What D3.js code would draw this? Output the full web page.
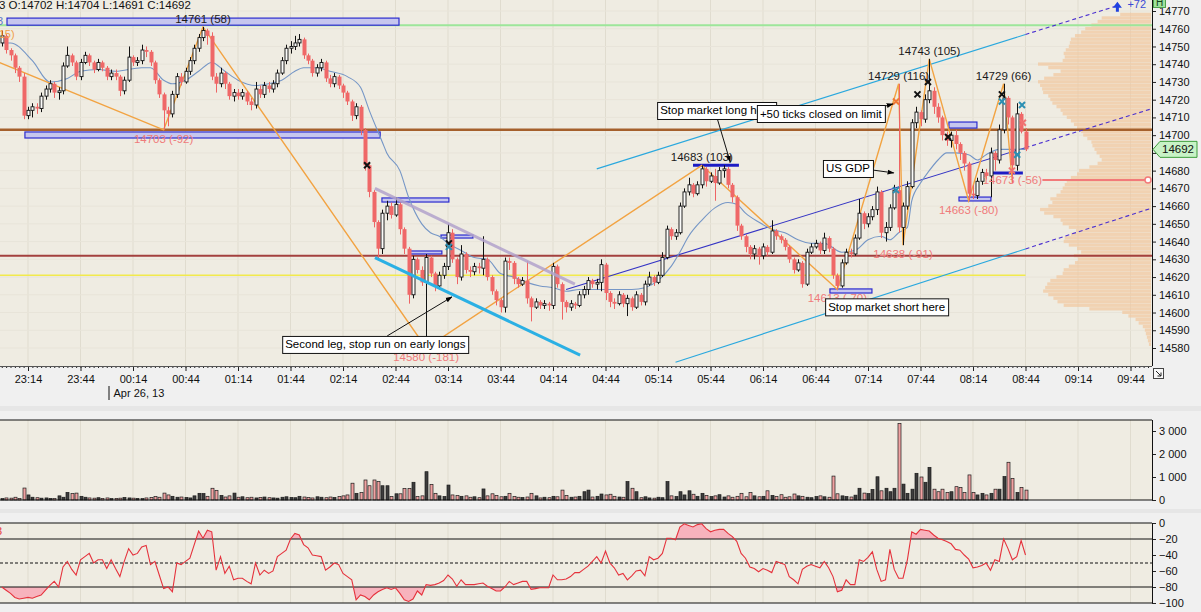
<!DOCTYPE html>
<html>
<head>
<meta charset="utf-8">
<style>
  body { margin: 0; background: #f0f0f0; }
  svg { display: block; font-family: "Liberation Sans", Arial, sans-serif; }
  .axis text { font-size: 11px; fill: #111; font-family: "Liberation Sans", Arial, sans-serif; }
  .axis .domain { display: none; }
  .axis .tick line { stroke: #222; }
</style>
</head>
<body>
<svg width="1201" height="612"></svg>
<script src="https://d3js.org/d3.v7.min.js"></script>
<script>
// ---- chart values ----
const timeTicks = ["23:14", "23:44", "00:14", "00:44", "01:14", "01:44", "02:14", "02:44", "03:14", "03:44", "04:14",
  "04:44", "05:14", "05:44", "06:14", "06:44", "07:14", "07:44", "08:14", "08:44", "09:14", "09:44"]
const priceTicks = [14580, 14590, 14600, 14610, 14620, 14630, 14640, 14650, 14660, 14670, 14680,
  14690, 14700, 14710, 14720, 14730, 14740, 14750, 14760, 14770]
const volumeTicks = [0, 1000, 2000, 3000]
const wprTicks = [0, -20, -40, -60, -80, -100]
const wprLevels = [0, -20, -80, -100]
const wprMid = -50

// 2.5 minute bars from 22:59; each bar opens at the previous close
const firstOpen = 14752
const closes = [
  14756, 14748, 14745, 14738, 14733, 14711, 14714, 14716, 14715, 14722,
  14726, 14729, 14724, 14725, 14739, 14745, 14741, 14733, 14741, 14745,
  14741, 14737, 14741, 14738, 14733, 14735, 14733, 14725, 14731, 14744,
  14741, 14742, 14748, 14747, 14741, 14731, 14723, 14714, 14712, 14723,
  14733, 14730, 14736, 14742, 14749, 14755, 14759, 14756, 14733, 14729,
  14735, 14729, 14722, 14724, 14722, 14724, 14719, 14717, 14726, 14723,
  14728, 14726, 14729, 14735, 14742, 14749, 14750, 14752, 14754, 14745,
  14742, 14735, 14738, 14741, 14732, 14729, 14733, 14728, 14724, 14719,
  14711, 14716, 14703, 14683, 14668, 14651, 14636, 14656, 14660, 14655,
  14661, 14647, 14636, 14610, 14630, 14624, 14617, 14631, 14622, 14615,
  14621, 14626, 14645, 14630, 14620, 14633, 14624, 14623, 14626, 14625,
  14630, 14620, 14612, 14607, 14603, 14629, 14628, 14619, 14616, 14618,
  14608, 14603, 14606, 14604, 14605, 14604, 14626, 14616, 14606, 14603,
  14605, 14604, 14610, 14613, 14618, 14616, 14617, 14627, 14611, 14606,
  14605, 14610, 14605, 14608, 14603, 14610, 14606, 14616, 14620, 14617,
  14621, 14631, 14647, 14643, 14645, 14660, 14668, 14672, 14667, 14672,
  14681, 14674, 14677, 14673, 14680, 14681, 14672, 14665, 14649, 14643,
  14637, 14633, 14636, 14632, 14637, 14634, 14646, 14643, 14641, 14637,
  14630, 14624, 14628, 14616, 14634, 14637, 14639, 14635, 14642, 14636,
  14621, 14615, 14628, 14634, 14633, 14642, 14656, 14650, 14654, 14658,
  14668, 14645, 14648, 14659, 14669, 14648, 14660, 14671, 14707, 14713,
  14709, 14720, 14725, 14716, 14710, 14700, 14697, 14700, 14695, 14690,
  14684, 14667, 14666, 14674, 14679, 14677, 14690, 14686, 14703, 14721,
  14710, 14683, 14712, 14702, 14692]
const highs = [
  14759, 14757, 14749, 14746, 14739, 14735, 14716, 14718, 14718, 14724,
  14728, 14731, 14730, 14727, 14741, 14750, 14746, 14742, 14743, 14747,
  14746, 14742, 14743, 14742, 14739, 14737, 14737, 14734, 14733, 14750,
  14745, 14744, 14751, 14750, 14748, 14742, 14732, 14724, 14716, 14725,
  14735, 14735, 14738, 14744, 14751, 14757, 14761, 14760, 14758, 14735,
  14738, 14736, 14730, 14726, 14726, 14726, 14725, 14721, 14730, 14728,
  14730, 14730, 14731, 14737, 14744, 14751, 14753, 14756, 14757, 14755,
  14746, 14743, 14740, 14743, 14742, 14734, 14735, 14734, 14729, 14725,
  14720, 14718, 14717, 14704, 14684, 14669, 14652, 14658, 14663, 14662,
  14665, 14662, 14648, 14637, 14632, 14631, 14626, 14633, 14632, 14623,
  14623, 14628, 14650, 14647, 14631, 14638, 14634, 14626, 14628, 14628,
  14643, 14631, 14621, 14613, 14608, 14631, 14631, 14629, 14620, 14620,
  14629, 14609, 14608, 14607, 14607, 14606, 14628, 14627, 14617, 14607,
  14607, 14606, 14612, 14615, 14620, 14619, 14619, 14630, 14628, 14612,
  14608, 14612, 14611, 14610, 14609, 14612, 14611, 14618, 14623, 14621,
  14623, 14634, 14649, 14648, 14647, 14662, 14670, 14676, 14673, 14674,
  14683, 14682, 14679, 14681, 14682, 14683, 14682, 14673, 14666, 14650,
  14644, 14638, 14638, 14637, 14639, 14638, 14652, 14647, 14644, 14642,
  14638, 14631, 14630, 14629, 14636, 14639, 14641, 14640, 14645, 14643,
  14637, 14622, 14630, 14636, 14636, 14644, 14664, 14657, 14656, 14660,
  14671, 14669, 14651, 14661, 14672, 14729, 14662, 14674, 14709, 14716,
  14714, 14723, 14743, 14727, 14718, 14711, 14702, 14702, 14703, 14696,
  14691, 14685, 14672, 14676, 14681, 14681, 14693, 14691, 14706, 14729,
  14722, 14711, 14718, 14713, 14704]
const lows = [
  14750, 14746, 14742, 14735, 14730, 14709, 14709, 14710, 14712, 14713,
  14720, 14724, 14721, 14720, 14723, 14738, 14739, 14731, 14731, 14740,
  14739, 14735, 14736, 14736, 14731, 14731, 14731, 14722, 14723, 14730,
  14739, 14739, 14740, 14744, 14739, 14729, 14721, 14703, 14705, 14710,
  14721, 14728, 14729, 14734, 14740, 14747, 14753, 14751, 14731, 14724,
  14727, 14726, 14720, 14719, 14720, 14720, 14717, 14714, 14715, 14721,
  14721, 14724, 14724, 14727, 14734, 14740, 14746, 14748, 14750, 14743,
  14740, 14733, 14733, 14736, 14730, 14727, 14727, 14726, 14721, 14717,
  14708, 14709, 14700, 14680, 14665, 14648, 14630, 14633, 14652, 14653,
  14654, 14644, 14633, 14605, 14608, 14622, 14615, 14580, 14620, 14612,
  14614, 14619, 14624, 14628, 14616, 14618, 14622, 14620, 14621, 14622,
  14621, 14618, 14610, 14604, 14600, 14600, 14624, 14616, 14614, 14615,
  14605, 14595, 14602, 14602, 14602, 14601, 14602, 14614, 14596, 14600,
  14601, 14602, 14603, 14608, 14610, 14614, 14613, 14612, 14607, 14603,
  14602, 14604, 14603, 14598, 14601, 14602, 14604, 14604, 14615, 14615,
  14616, 14620, 14630, 14641, 14641, 14644, 14659, 14666, 14665, 14666,
  14670, 14671, 14673, 14663, 14672, 14676, 14670, 14662, 14646, 14641,
  14634, 14630, 14630, 14627, 14630, 14632, 14633, 14641, 14639, 14635,
  14628, 14622, 14623, 14614, 14615, 14633, 14636, 14633, 14633, 14634,
  14619, 14613, 14614, 14627, 14631, 14632, 14641, 14647, 14648, 14652,
  14655, 14642, 14640, 14646, 14658, 14645, 14638, 14658, 14670, 14704,
  14705, 14707, 14718, 14712, 14707, 14697, 14694, 14693, 14692, 14686,
  14680, 14663, 14664, 14664, 14672, 14675, 14665, 14680, 14684, 14701,
  14706, 14673, 14680, 14701, 14691]
const volumes = [
  60, 90, 80, 120, 70, 520, 220, 120, 100, 80,
  90, 70, 60, 180, 120, 330, 280, 300, 160, 120,
  90, 80, 100, 70, 90, 60, 70, 80, 110, 90,
  80, 70, 60, 90, 110, 150, 120, 300, 220, 160,
  120, 130, 110, 90, 180, 290, 280, 160, 510, 420,
  200, 130, 180, 300, 120, 140, 100, 120, 90, 110,
  130, 100, 90, 80, 120, 140, 110, 100, 160, 130,
  110, 90, 140, 120, 100, 130, 110, 150, 180, 220,
  730, 290, 320, 870, 620, 870, 800, 620, 620, 150,
  270, 270, 500, 500, 770, 150, 180, 1230, 680, 290,
  180, 150, 650, 220, 190, 160, 180, 120, 140, 100,
  480, 180, 270, 200, 140, 160, 290, 150, 120, 110,
  130, 290, 180, 90, 120, 100, 160, 140, 430, 200,
  120, 130, 160, 360, 430, 130, 160, 260, 220, 250,
  160, 130, 120, 800, 510, 360, 100, 140, 90, 80,
  120, 100, 800, 180, 150, 360, 220, 400, 250, 160,
  290, 200, 150, 180, 230, 130, 180, 120, 160, 290,
  140, 320, 180, 140, 160, 400, 200, 150, 230, 120,
  140, 260, 180, 160, 120, 100, 150, 180, 140, 120,
  1040, 270, 180, 150, 130, 210, 510, 300, 280, 460,
  1010, 400, 510, 360, 510, 3330, 690, 290, 470, 1160,
  1000, 770, 1420, 470, 360, 470, 330, 360, 580, 550,
  320, 1090, 330, 220, 290, 220, 290, 470, 470, 1020,
  1640, 940, 330, 550, 430]
// Williams %R per bar
const wpr = [
  -80, -84, -88, -93, -95, -94, -93, -94, -92, -90,
  -84, -78, -73, -80, -55, -48, -58, -65, -46, -42,
  -38, -50, -46, -46, -57, -46, -57, -67, -48, -32,
  -40, -38, -30, -28, -52, -48, -65, -82, -80, -86,
  -50, -52, -48, -44, -27, -10, -19, -9, -11, -59,
  -42, -63, -54, -71, -69, -69, -73, -76, -50, -65,
  -59, -63, -60, -42, -38, -34, -20, -13, -15, -27,
  -31, -40, -41, -42, -59, -55, -50, -52, -63, -67,
  -71, -96, -90, -92, -96, -90, -86, -83, -81, -83,
  -81, -88, -96, -98, -95, -85, -90, -77, -78, -77,
  -75, -72, -65, -70, -79, -71, -77, -77, -77, -76,
  -75, -79, -82, -85, -85, -80, -73, -77, -75, -73,
  -73, -83, -82, -81, -81, -81, -65, -71, -71, -70,
  -67, -62, -62, -58, -54, -48, -42, -50, -35, -50,
  -56, -65, -63, -71, -66, -60, -59, -66, -42, -46,
  -44, -38, -19, -19, -21, -5, -1, -3, -5, -2,
  -1, -7, -11, -9, -8, -8, -13, -17, -23, -38,
  -44, -55, -57, -61, -57, -59, -62, -48, -50, -52,
  -67, -71, -76, -58, -54, -52, -54, -56, -48, -56,
  -67, -86, -84, -71, -77, -77, -46, -48, -43, -36,
  -58, -73, -71, -33, -58, -69, -69, -46, -11, -14,
  -8, -9, -10, -15, -19, -21, -23, -26, -33, -34,
  -40, -45, -56, -55, -53, -50, -59, -46, -48, -20,
  -32, -46, -42, -22, -40]

// moving average, read at sample bars
const maBars = [0, 2, 7, 11, 15, 18, 22, 26, 32, 34, 37, 39, 42, 45, 48, 51, 54, 58, 61, 64, 67, 69, 72, 75, 79, 82, 84, 87,
  88, 91, 93, 96, 98, 100, 102, 105, 108, 111, 114, 117, 120, 123, 126, 129, 132, 135, 139, 144, 147, 150, 153, 155, 157,
  160, 163, 166, 168, 170, 173, 176, 179, 182, 185, 188, 192, 195, 198, 201, 203, 205, 207, 208, 210, 212, 214, 216, 218,
  221, 223, 225, 228, 230, 234]
const maValues = [14752, 14752, 14742, 14730, 14732, 14736, 14737, 14736, 14738, 14738, 14731, 14729, 14731, 14736, 14741,
  14736, 14731, 14728, 14729, 14731, 14736, 14738, 14738, 14736, 14733, 14727, 14714, 14696, 14690, 14680, 14665, 14650,
  14645, 14643, 14639, 14635, 14631, 14630, 14622, 14620, 14617, 14615, 14614, 14612, 14613, 14613, 14613, 14613, 14614,
  14618, 14626, 14634, 14643, 14652, 14659, 14662, 14661, 14656, 14651, 14647, 14645, 14641, 14639, 14639, 14634, 14635,
  14641, 14643, 14641, 14645, 14648, 14663, 14673, 14680, 14686, 14690, 14690, 14689, 14686, 14689, 14692, 14692, 14692]

// zigzag swing points
const pivotBars = [-54, 37, 46, 97, 160, 191, 205, 206, 212, 221, 229, 231]
const pivotPrices = [14795, 14703, 14761, 14580, 14683, 14613, 14729, 14638, 14743, 14663, 14729, 14673]

// horizontal levels: high-of-day, pivot, support, settlement
const levelPrices = [14762, 14703, 14632, 14621]

// supply / demand zones (bar range, price range)
const zoneBars = [[1.2, 90.8], [5.3, 86.5], [86.9, 102.2], [93.3, 100.6], [100.4, 107.7], [216.5, 222.9], [218.8, 226.1], [189.3, 198.9]]
const zonePrices = [[14762, 14766], [14698.4, 14701.8], [14662.3, 14664.6], [14633, 14634.7], [14642, 14643.7],
  [14704, 14707.4], [14662.9, 14665.1], [14611, 14613.3]]
const swingLineBars = [[158, 168.5], [226.1, 233.4]]
const swingLinePrices = [14683, 14678.7]

// regression channel (upper, middle, lower) and hand drawn trend lines
const channelBars = [[136, 255], [129, 263], [154, 263]]
const channelPrices = [[14681, 14773], [14613, 14715], [14572, 14659]]
const channelGain = 72
const trendBars = [[85.3, 132.2], [85.3, 131]]
const trendPrices = [[14631, 14576], [14670, 14616]]

// trade markers
const markBars = [83.5, 102.2, 209.3, 211.7, 216.3, 228.6, 102.2, 204.4, 228.6, 232.1, 233.2, 204.4, 230.9, 233.4]
const markPrices = [14683, 14639, 14723, 14730, 14699, 14723, 14637, 14669, 14719, 14689, 14717, 14719, 14680, 14707]
const markKinds = ["exit", "exit", "exit", "exit", "exit", "exit", "entry", "entry", "entry", "entry", "entry", "stop", "target", "target"]

// text notes
const noteTexts = ["Stop market long here", "+50 ticks closed on limit", "US GDP", "Stop market short here", "Second leg, stop run on early longs"]
const noteBars = [149.8, 172.6, 187.7, 188.2, 64.1]
const notePrices = [14718.7, 14717, 14686, 14608, 14586.8]
const arrowFrom = [[163.5, 14709.7], [200.3, 14715.3], [198.9, 14680.4], null, [88.1, 14586.8]]
const arrowTo = [[166.5, 14684.9], [203.7, 14717.6], [203.9, 14678.7], null, [102.9, 14608.8]]

// volume profile, one value per 2 points from 14580
const profileLow = 14580
const profile = [
  0, 2, 3, 4, 5, 6, 8, 12, 15, 22,
  28, 60, 85, 91, 95, 100, 105, 103, 101, 98,
  92, 86, 85, 80, 74, 71, 75, 68, 72, 80,
  85, 84, 78, 73, 80, 86, 88, 95, 104, 108,
  100, 96, 98, 92, 88, 86, 84, 82, 78, 72,
  70, 60, 52, 48, 50, 53, 55, 57, 58, 62,
  66, 68, 72, 75, 78, 82, 86, 88, 92, 96,
  98, 100, 105, 106, 108, 110, 104, 95, 88, 100,
  110, 86, 84, 85, 83, 80, 79, 78, 74, 68,
  64, 58, 52, 48, 30]

// ---- drawing ----
let svg = d3.select("svg")
let W = 1152
let last = closes.length - 1
let opens = closes.map((c, i) => i == 0 ? firstOpen : closes[i - 1])

let base = new Date(2013, 3, 25, 22, 59)
function barTime(i) { return new Date(base.getTime() + i * 150000) }
let x = d3.scaleTime()
  .domain([new Date(2013, 3, 25, 22, 58), new Date(2013, 3, 26, 9, 56, 17)])
  .range([0, W])
function xb(i) { return x(barTime(i)) }
function tickDate(s) {
  let [h, m] = s.split(":").map(Number)
  return new Date(2013, 3, h > 12 ? 25 : 26, h, m)
}
let majorTimes = timeTicks.map(tickDate)

let y = d3.scaleLinear().domain([14580, 14770]).range([348, 11])
let yv = d3.scaleLinear().domain([0, 3000]).range([500, 431])
let yw = d3.scaleLinear().domain([-100, 0]).range([603, 523])

let defs = svg.append("defs")
defs.append("clipPath").attr("id", "clipP").append("rect").attr("width", W).attr("height", 366)
defs.append("clipPath").attr("id", "clipHi").append("rect").attr("x", 0).attr("y", yw(0)).attr("width", W).attr("height", yw(-20) - yw(0))
defs.append("clipPath").attr("id", "clipLo").append("rect").attr("x", 0).attr("y", yw(-80)).attr("width", W).attr("height", yw(-100) - yw(-80))
defs.append("marker").attr("id", "arrow").attr("viewBox", "0 0 10 10").attr("refX", 9).attr("refY", 5)
  .attr("markerWidth", 7).attr("markerHeight", 7).attr("orient", "auto")
  .append("path").attr("d", "M0,1.5L10,5L0,8.5z").attr("fill", "#000")

// panel backgrounds
let panelTops = [[0, 366], [420, 500], [523, 603]]
panelTops.forEach(p => {
  svg.append("rect").attr("x", 0).attr("y", p[0]).attr("width", W).attr("height", p[1] - p[0]).attr("fill", "#efece2")
})
svg.append("rect").attr("x", 0).attr("y", 406).attr("width", 1201).attr("height", 5).attr("fill", "#e6e6e6")
svg.append("rect").attr("x", 0).attr("y", 509).attr("width", 1201).attr("height", 4).attr("fill", "#e6e6e6")

// grid
panelTops.forEach(p => {
  svg.append("g").selectAll("line").data(majorTimes).join("line")
    .attr("x1", d => x(d)).attr("x2", d => x(d)).attr("y1", p[0]).attr("y2", p[1])
    .attr("stroke", "#e0dccf").attr("stroke-width", 1)
})
svg.append("g").selectAll("line").data(priceTicks).join("line")
  .attr("x1", 0).attr("x2", W).attr("y1", d => y(d)).attr("y2", d => y(d))
  .attr("stroke", "#e8e4d9")

let plot = svg.append("g").attr("clip-path", "url(#clipP)")

// volume profile
let px = d3.scaleLinear().domain([0, 110]).range([0, 113])
let rowH = y(profileLow) - y(profileLow + 2)
plot.append("g").selectAll("rect").data(profile).join("rect")
  .attr("x", d => W - 1 - px(d))
  .attr("y", (d, k) => y(profileLow + 2 * k + 1))
  .attr("width", d => px(d))
  .attr("height", rowH - 0.3)
  .attr("fill", "#f1c7a0").attr("opacity", 0.72)

// horizontal levels
let levelColor = ["#9de69a", "#a5602c", "#a3403e", "#f2ea4c"]
let levelWidth = [2, 2.5, 2, 1.5]
levelPrices.forEach((p, k) => {
  plot.append("line")
    .attr("x1", 0).attr("x2", k == 3 ? xb(last) : W)
    .attr("y1", y(p)).attr("y2", y(p))
    .attr("stroke", levelColor[k]).attr("stroke-width", levelWidth[k])
})

// zones
plot.append("g").selectAll("rect").data(zoneBars).join("rect")
  .attr("x", d => xb(d[0])).attr("width", d => xb(d[1]) - xb(d[0]))
  .attr("y", (d, k) => y(zonePrices[k][1]))
  .attr("height", (d, k) => y(zonePrices[k][0]) - y(zonePrices[k][1]))
  .attr("fill", "#c6c6ee").attr("stroke", "#2b2bcf").attr("stroke-width", 1.2)
plot.append("g").selectAll("line").data(swingLineBars).join("line")
  .attr("x1", d => xb(d[0])).attr("x2", d => xb(d[1]))
  .attr("y1", (d, k) => y(swingLinePrices[k])).attr("y2", (d, k) => y(swingLinePrices[k]))
  .attr("stroke", "#1c1cc4").attr("stroke-width", 3)

// channel
let chanColor = ["#2aa8de", "#3434c4", "#2aa8de"]
channelBars.forEach((b, k) => {
  let p = channelPrices[k]
  let pEnd = p[0] + (p[1] - p[0]) * (last - b[0]) / (b[1] - b[0])
  plot.append("line").attr("x1", xb(b[0])).attr("y1", y(p[0])).attr("x2", xb(last)).attr("y2", y(pEnd))
    .attr("stroke", chanColor[k]).attr("stroke-width", 1.1)
  plot.append("line").attr("x1", xb(last)).attr("y1", y(pEnd)).attr("x2", xb(b[1])).attr("y2", y(p[1]))
    .attr("stroke", "#4a2fd0").attr("stroke-width", 1.1).attr("stroke-dasharray", "4,3")
})

// moving average
let maLine = d3.line().x(d => xb(d[0])).y(d => y(d[1])).curve(d3.curveMonotoneX)
plot.append("path").datum(maBars.map((b, k) => [b, maValues[k]]))
  .attr("d", maLine).attr("fill", "none").attr("stroke", "#7596c6").attr("stroke-width", 1.1)

// zigzag
let zz = d3.line().x(d => xb(d[0])).y(d => y(d[1]))
plot.append("path").datum(pivotBars.map((b, k) => [b, pivotPrices[k]]))
  .attr("d", zz).attr("fill", "none").attr("stroke", "#f2a342").attr("stroke-width", 1.4)

// candles
let candles = plot.append("g")
closes.forEach((c, i) => {
  let o = opens[i]
  let up = c >= o
  let cx = Math.round(xb(i)) + 0.5
  candles.append("line")
    .attr("x1", cx).attr("x2", cx)
    .attr("y1", y(Math.max(highs[i], o, c))).attr("y2", y(Math.min(lows[i], o, c)))
    .attr("stroke", up ? "#111" : "#ee6464").attr("stroke-width", 1)
  let top = y(Math.max(o, c)), h = Math.max(1, Math.abs(y(o) - y(c)))
  if (up) {
    candles.append("rect").attr("x", cx - 1.5).attr("y", top).attr("width", 3).attr("height", h)
      .attr("fill", "#fcfcfa").attr("stroke", "#111").attr("stroke-width", 0.9)
  } else {
    candles.append("rect").attr("x", cx - 2).attr("y", top).attr("width", 4).attr("height", h)
      .attr("fill", "#ef6868")
  }
})

// drawn trend lines
let trendColor = ["#2bb0e4", "#b3a3cc"]
trendBars.forEach((b, k) => {
  plot.append("line").attr("x1", xb(b[0])).attr("x2", xb(b[1]))
    .attr("y1", y(trendPrices[k][0])).attr("y2", y(trendPrices[k][1]))
    .attr("stroke", trendColor[k]).attr("stroke-width", 3).attr("opacity", k ? 0.85 : 1)
})

// trade markers
let markColor = { exit: "#111", entry: "#2b8fb3", stop: "#f07a35", target: "#f07272" }
markBars.forEach((b, k) => {
  let mx = xb(b), my = y(markPrices[k]), s = 3
  plot.append("path").attr("d", `M${mx - s},${my - s}L${mx + s},${my + s}M${mx - s},${my + s}L${mx + s},${my - s}`)
    .attr("stroke", markColor[markKinds[k]]).attr("stroke-width", 2)
})

// pivot labels; the latest swing label sits on its projection line
let lastPiv = pivotBars.length - 1
pivotBars.forEach((b, k) => {
  if (k == 0) return
  let p = pivotPrices[k], diff = p - pivotPrices[k - 1]
  let isHigh = diff > 0
  let ly = isHigh ? y(p) - 4 : (k == lastPiv ? y(p) + 1 : y(p) + 13)
  plot.append("text")
    .attr("x", xb(b)).attr("y", ly)
    .attr("text-anchor", "middle")
    .style("font-size", "11.5px")
    .attr("fill", isHigh ? "#1a1a1a" : "#ef7b7b")
    .text(`${p} (${diff})`)
})

// projection of last swing
plot.append("line")
  .attr("x1", xb(pivotBars[lastPiv]) + 30).attr("x2", W - 4)
  .attr("y1", y(pivotPrices[lastPiv]) - 3).attr("y2", y(pivotPrices[lastPiv]) - 3)
  .attr("stroke", "#f27a7a").attr("stroke-width", 2)
plot.append("circle").attr("cx", W - 4).attr("cy", y(pivotPrices[lastPiv]) - 3).attr("r", 3)
  .attr("fill", "#fff").attr("stroke", "#f27a7a").attr("stroke-width", 1.5)

// partly hidden labels at the left edge
plot.append("text").attr("x", xb(zoneBars[0][0]) - 4).attr("y", y(zonePrices[0][0]) - 0.5)
  .attr("text-anchor", "end").style("font-size", "11px").attr("fill", "#5d78c8").text("03")
plot.append("text").attr("x", -5).attr("y", 38)
  .style("font-size", "11px").attr("fill", "#f0a04a").text("(15)")

// channel target arrow
let upEnd = [xb(channelBars[0][1]), y(channelPrices[0][1])]
plot.append("path").attr("d", `M${upEnd[0]},${upEnd[1] - 4}l-4.5,6h3v4h3v-4h3z`).attr("fill", "#2142e0")
svg.append("text").attr("x", upEnd[0] + 10).attr("y", 8).style("font-size", "11px").attr("fill", "#3b4bd6").text("+" + channelGain)

// notes and arrows
arrowFrom.forEach((a, k) => {
  if (!a) return
  svg.append("line").attr("x1", xb(a[0])).attr("y1", y(a[1]))
    .attr("x2", xb(arrowTo[k][0])).attr("y2", y(arrowTo[k][1]))
    .attr("stroke", "#111").attr("stroke-width", 1).attr("marker-end", "url(#arrow)")
})
noteTexts.forEach((t, k) => {
  let g = svg.append("g")
  let bx = xb(noteBars[k]), by = y(notePrices[k])
  let txt = g.append("text").attr("x", bx + 3).attr("y", by + 12.5).style("font-size", "11.5px").attr("fill", "#000").text(t)
  let w = txt.node().getComputedTextLength()
  g.insert("rect", "text").attr("x", bx + 0.5).attr("y", by + 0.5).attr("width", Math.round(w) + 6).attr("height", 17)
    .attr("fill", "#fff").attr("stroke", "#111")
})

// volume bars
svg.append("g").selectAll("rect").data(volumes).join("rect")
  .attr("x", (d, i) => Math.round(xb(i)) - 1)
  .attr("y", d => yv(d))
  .attr("width", 3)
  .attr("height", d => yv(0) - yv(d))
  .attr("fill", (d, i) => closes[i] >= opens[i] ? "#3d3d3d" : "#f0a2a2")
  .attr("stroke", "#1a1a1a").attr("stroke-width", 0.7)
svg.append("line").attr("x1", 0).attr("x2", W).attr("y1", 420).attr("y2", 420).attr("stroke", "#111")
svg.append("line").attr("x1", 0).attr("x2", W).attr("y1", yv(0)).attr("y2", yv(0)).attr("stroke", "#111")

// williams %R
let wLine = d3.line().x((d, i) => xb(i)).y(d => yw(d))
let wAreaHi = d3.area().x((d, i) => xb(i)).y0(yw(-20)).y1(d => yw(d))
let wAreaLo = d3.area().x((d, i) => xb(i)).y0(yw(-80)).y1(d => yw(d))
svg.append("path").datum(wpr).attr("d", wAreaHi).attr("fill", "#f7b3bd").attr("clip-path", "url(#clipHi)")
svg.append("path").datum(wpr).attr("d", wAreaLo).attr("fill", "#f7b3bd").attr("clip-path", "url(#clipLo)")
svg.append("g").selectAll("line").data(wprLevels).join("line")
  .attr("x1", 0).attr("x2", W).attr("y1", d => yw(d)).attr("y2", d => yw(d)).attr("stroke", "#111")
svg.append("line").attr("x1", 0).attr("x2", W).attr("y1", yw(wprMid)).attr("y2", yw(wprMid))
  .attr("stroke", "#111").attr("stroke-dasharray", "3,2")
svg.append("path").datum(wpr).attr("d", wLine).attr("fill", "none").attr("stroke", "#e5323c").attr("stroke-width", 1.1)
svg.append("text").attr("x", -4).attr("y", 535).style("font-size", "11px").attr("fill", "#e5323c").text("3")

// axes
let minorTimes = d3.range(0, 263).map(barTime)
svg.append("g").attr("class", "axis").attr("transform", "translate(0,366)")
  .call(d3.axisBottom(x).tickValues(minorTimes).tickSize(2).tickSizeOuter(0).tickFormat(""))
svg.append("g").attr("class", "axis").attr("transform", "translate(0,366)")
  .call(d3.axisBottom(x).tickValues(majorTimes).tickSize(5).tickSizeOuter(0).tickPadding(4).tickFormat(d3.timeFormat("%H:%M")))
svg.append("line").attr("x1", 0).attr("x2", W).attr("y1", 366.5).attr("y2", 366.5).attr("stroke", "#555")

let dayStart = new Date(2013, 3, 26, 0, 0)
svg.append("line").attr("x1", x(dayStart) + 0.5).attr("x2", x(dayStart) + 0.5).attr("y1", 386).attr("y2", 400).attr("stroke", "#111")
svg.append("text").attr("x", x(dayStart) + 5).attr("y", 397).style("font-size", "11px").attr("fill", "#111")
  .text(d3.timeFormat("%b %e, %y")(dayStart).replace("  ", " "))

svg.append("g").attr("class", "axis").attr("transform", `translate(${W},0)`)
  .call(d3.axisRight(y).tickValues(priceTicks).tickSize(4).tickPadding(3).tickFormat(d3.format("d")))
svg.append("line").attr("x1", W + 0.5).attr("x2", W + 0.5).attr("y1", 0).attr("y2", 366).attr("stroke", "#111")

let spaced = d3.formatLocale({ thousands: "\u2009", grouping: [3], decimal: ",", currency: ["", ""] }).format(",")
svg.append("g").attr("class", "axis").attr("transform", `translate(${W},0)`)
  .call(d3.axisRight(yv).tickValues(volumeTicks).tickSize(4).tickPadding(3).tickFormat(d => spaced(d).replace("\u2009", " ")))
svg.append("line").attr("x1", W + 0.5).attr("x2", W + 0.5).attr("y1", 420).attr("y2", 500).attr("stroke", "#111")
svg.append("g").attr("class", "axis").attr("transform", `translate(${W},0)`)
  .call(d3.axisRight(yw).tickValues(wprTicks).tickSize(4).tickPadding(3))
svg.append("line").attr("x1", W + 0.5).attr("x2", W + 0.5).attr("y1", 523).attr("y2", 603).attr("stroke", "#111")

// corner icon
svg.append("rect").attr("x", 1153.5).attr("y", 368.5).attr("width", 10).attr("height", 10).attr("fill", "#f8f8f8").attr("stroke", "#444")
svg.append("path").attr("d", "M1156,371L1161,376M1161,372.5V376H1157.5").attr("fill", "none").attr("stroke", "#222")

// "H" tag
svg.append("rect").attr("x", 1153.5).attr("y", -3.5).attr("width", 12).attr("height", 11).attr("fill", "#9ee39c").attr("stroke", "#4f9f4d")
svg.append("text").attr("x", 1159.5).attr("y", 6).attr("text-anchor", "middle").style("font-size", "10px").attr("fill", "#14401a").text("H")

// last price tag
let lp = y(closes[last])
svg.append("path").attr("d", `M${W + 1},${lp}L${W + 8},${lp - 8}H1197V${lp + 8}H${W + 8}Z`)
  .attr("fill", "#c8f2c6").attr("stroke", "#3d9d3b")
svg.append("text").attr("x", W + 10).attr("y", lp + 4).style("font-size", "11.5px").attr("fill", "#111").text(closes[last])

// header
svg.append("text").attr("x", -1).attr("y", 9).style("font-size", "11.5px").attr("fill", "#111")
  .text(`3 O:${opens[last]} H:${highs[last]} L:${lows[last]} C:${closes[last]}`)
</script>
</body>
</html>
